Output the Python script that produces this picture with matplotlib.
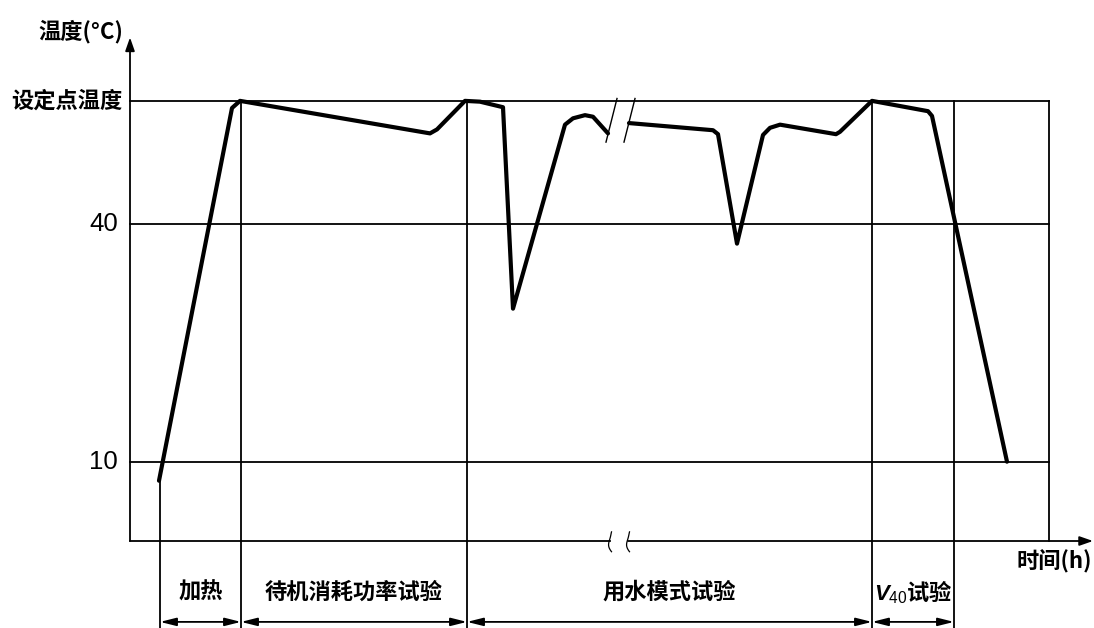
import numpy as np
import matplotlib.pyplot as plt

plt.rcParams['font.family'] = ['Noto Sans CJK SC', 'DejaVu Sans']
plt.rcParams['mathtext.fontset'] = 'custom'
plt.rcParams['mathtext.it'] = 'Liberation Sans:italic:bold'
plt.rcParams['mathtext.rm'] = 'Liberation Sans'

# schematic temperature curve (time in arbitrary units, temperature in °C)
time_pts = [2.9, 10.2, 11.0, 30.0, 30.7, 33.5, 35.0, 37.3, 38.3, 43.5, 44.3, 45.5,
            46.3, 47.8, np.nan, 49.9, 58.3, 58.8, 60.7, 63.3, 64.0, 65.0, 70.6,
            71.0, 74.2, 79.8, 80.2, 87.7]
temp_pts = [7.6, 54.6, 55.5, 51.4, 51.9, 55.5, 55.4, 54.7, 29.3, 52.5, 53.3, 53.7,
            53.5, 51.4, np.nan, 52.7, 51.8, 51.3, 37.5, 51.2, 52.1, 52.5, 51.3,
            51.6, 55.5, 54.2, 53.6, 10.0]

setpoint = 55.5
level_vals = [setpoint, 40, 10]
level_labels = ['设定点温度', '40', '10']

phase_edges = [3.0, 11.1, 33.7, 74.2, 82.4]
phase_names = ['加热', '待机消耗功率试验', '用水模式试验', '$V_{40}$试验']
t_end = 91.9
t_break = (48.0, 49.8)

fig = plt.figure(figsize=(10.94, 6.28), dpi=100)
ax = fig.add_axes([0, 0, 1, 1])
ax.set_xlim(-13.0, 96.4)
ax.set_ylim(-10.97, 68.22)
ax.axis('off')

lw_thin = 1.3
y_bottom = -10.97
cjk = dict(fontsize=16, weight='bold')

# horizontal reference lines
for v in level_vals:
    ax.plot([0, t_end], [v, v], color='black', lw=lw_thin)
for v, lab in zip(level_vals, level_labels):
    if lab.isdigit():
        ax.text(-1.2, v, lab, ha='right', va='center', fontsize=18.5,
                family='Liberation Sans')
    else:
        ax.text(-0.8, v, lab, ha='right', va='center', **cjk)

# vertical phase boundaries
ax.plot([phase_edges[0]] * 2, [temp_pts[0], y_bottom], color='black', lw=lw_thin)
for e in phase_edges[1:]:
    ax.plot([e, e], [setpoint, y_bottom], color='black', lw=lw_thin)
ax.plot([t_end, t_end], [setpoint, 0], color='black', lw=lw_thin)

# axes with arrows
ax.annotate('', xy=(0, 63.5), xytext=(0, 0),
            arrowprops=dict(arrowstyle='-|>,head_length=1.0,head_width=0.35',
                            mutation_scale=8, color='black', lw=lw_thin,
                            shrinkA=0, shrinkB=0))
ax.plot([0, t_break[0]], [0, 0], color='black', lw=lw_thin)
ax.annotate('', xy=(96.3, 0), xytext=(t_break[1], 0),
            arrowprops=dict(arrowstyle='-|>,head_length=1.0,head_width=0.35',
                            mutation_scale=8, color='black', lw=lw_thin,
                            shrinkA=0, shrinkB=0))
# break marks on time axis
s = np.linspace(-1, 1, 30)
for tb in t_break:
    ax.plot(tb + 0.25 * s ** 2 - 0.1 + 0.08 * np.sin(np.pi * s), 1.25 * s - 0.1,
            color='black', lw=0.9)

ax.text(96.2, -2.6, '时间(h)', ha='right', va='center', **cjk)
ax.text(-0.7, 64.2, '温度(°C)', ha='right', va='center', **cjk)

# temperature curve
ax.plot(time_pts, temp_pts, color='black', lw=3.0, solid_joinstyle='round',
        solid_capstyle='round')
# break slashes on curve
for tb in (48.6, 50.4):
    ax.plot([tb + 0.1, tb - 1.0], [55.8, 50.3], color='black', lw=1.0)

# phase arrows and labels
y_arrow = -10.2
for a, b, name in zip(phase_edges[:-1], phase_edges[1:], phase_names):
    ax.annotate('', xy=(a, y_arrow), xytext=(b, y_arrow),
                arrowprops=dict(arrowstyle='<|-|>,head_length=1.2,head_width=0.3',
                                mutation_scale=8, color='black', lw=lw_thin,
                                shrinkA=0, shrinkB=0))
    ax.text((a + b) / 2, -6.4, name, ha='center', va='center', **cjk)

fig.savefig('out.png', dpi=100)
